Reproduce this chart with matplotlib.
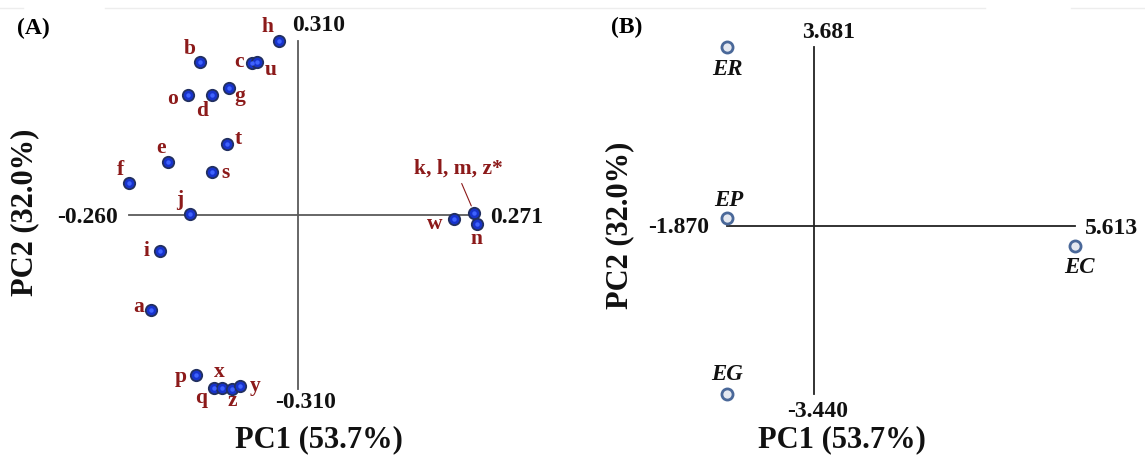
import matplotlib
matplotlib.use("Agg")
import matplotlib.pyplot as plt
from matplotlib.lines import Line2D

# ---------------- data ----------------
# Panel A: loadings
labels_a = ['h', 'b', 'c', 'u', 'o', 'd', 'g', 't', 'e', 's', 'f',
            'j', 'i', 'a', 'p', 'q', 'x', 'z', 'y', 'w', 'k, l, m, z*', 'n']
pc1_a = [-0.030, -0.151, -0.071, -0.063, -0.170, -0.132, -0.107, -0.110,
         -0.201, -0.132, -0.260, -0.166, -0.213, -0.226, -0.158, -0.130,
         -0.118, -0.102, -0.089, 0.240, 0.271, 0.275]
pc2_a = [0.310, 0.272, 0.270, 0.273, 0.214, 0.214, 0.227, 0.126, 0.095,
         0.076, 0.057, 0.002, -0.064, -0.168, -0.285, -0.308, -0.308,
         -0.310, -0.305, -0.007, 0.004, -0.016]
xlim_a = (-0.260, 0.271)
ylim_a = (-0.310, 0.310)

# Panel B: scores
labels_b = ['ER', 'EP', 'EG', 'EC']
pc1_b = [-1.870, -1.870, -1.870, 5.613]
pc2_b = [3.681, 0.166, -3.440, -0.397]
xlim_b = (-1.870, 5.613)
ylim_b = (-3.440, 3.681)

xlabel = 'PC1 (53.7%)'
ylabel = 'PC2 (32.0%)'

# ---------------- styling ----------------
W, H = 1145, 461
SERIF = ['Liberation Serif', 'DejaVu Serif']
plt.rcParams['font.family'] = SERIF
RED = '#8c1a1a'

fig = plt.figure(figsize=(W / 100, H / 100), dpi=100)
fig.patch.set_facecolor('white')


def add_axes_px(left, right, top, bottom):
    return fig.add_axes([left / W, 1 - bottom / H, (right - left) / W, (bottom - top) / H])


# faint top rule
for x0, x1 in [(0, 23), (105, 985), (1071, 1145)]:
    fig.add_artist(Line2D([x0 / W, x1 / W], [1 - 8 / H, 1 - 8 / H],
                          color='#ededed', lw=1.0, transform=fig.transFigure))

# ---------------- Panel A ----------------
axA = add_axes_px(129.3, 474.3, 41, 389.3)
axA.set_xlim(*xlim_a)
axA.set_ylim(*ylim_a)
axA.axis('off')
axA.plot([xlim_a[0], xlim_a[1]], [0, 0], color='#5a5a5a', lw=1.3, clip_on=False, zorder=1)
axA.plot([0, 0], [ylim_a[0], ylim_a[1]], color='#5a5a5a', lw=1.3, clip_on=False, zorder=1)

axA.plot(pc1_a, pc2_a, 'o', ms=8.2, mfc='#1733cc', mec='#223060', mew=1.3,
         clip_on=False, zorder=3)
axA.plot(pc1_a, pc2_a, 'o', ms=3.2, mfc='#3f63ff', mec='none',
         clip_on=False, zorder=4)

offs_a = {'h': (-11, 14), 'b': (-10, 13), 'c': (-13, 1), 'u': (13, -8),
          'o': (-15, -4), 'd': (-10, -16), 'g': (11, -8), 't': (11, 5),
          'e': (-7, 14), 's': (13, -1), 'f': (-9, 13), 'j': (-11, 14),
          'i': (-13, 0), 'a': (-13, 3), 'p': (-15, -2), 'q': (-13, -10),
          'x': (-2, 16), 'z': (0, -12), 'y': (15, 0), 'w': (-19, -5),
          'k, l, m, z*': (-16, 44), 'n': (0, -15)}
for lab, x, y in zip(labels_a, pc1_a, pc2_a):
    axA.annotate(lab, (x, y), xytext=offs_a[lab], textcoords='offset pixels',
                 ha='center', va='center', fontsize=15.5, fontweight='bold',
                 color=RED, annotation_clip=False)
    if lab.startswith('k'):
        axA.annotate('', (x, y), xytext=(-12.6, 29.4), textcoords='offset pixels',
                     arrowprops=dict(arrowstyle='-', color=RED, lw=0.8,
                                     shrinkA=0, shrinkB=5.5),
                     annotation_clip=False)

tick_kw = dict(textcoords='offset pixels', fontsize=17, fontweight='bold',
               color='#111111', annotation_clip=False)
axA.annotate(f'{ylim_a[1]:.3f}', (0, ylim_a[1]), xytext=(20, 15), ha='center', va='center', **tick_kw)
axA.annotate(f'{ylim_a[0]:.3f}', (0, ylim_a[0]), xytext=(7, -13), ha='center', va='center', **tick_kw)
axA.annotate(f'{xlim_a[0]:.3f}', (xlim_a[0], 0), xytext=(-11, -2), ha='right', va='center', **tick_kw)
axA.annotate(f'{xlim_a[1]:.3f}', (xlim_a[1], 0), xytext=(16, -2), ha='left', va='center', **tick_kw)

# ---------------- Panel B ----------------
axB = add_axes_px(727, 1075, 47, 394)
axB.set_xlim(*xlim_b)
axB.set_ylim(*ylim_b)
axB.axis('off')
axB.plot([xlim_b[0], xlim_b[1]], [0, 0], color='#222222', lw=1.3, clip_on=False, zorder=1)
axB.plot([0, 0], [ylim_b[0], ylim_b[1]], color='#222222', lw=1.3, clip_on=False, zorder=1)
axB.plot(pc1_b, pc2_b, 'o', ms=8, mfc='#e4e8f0', mec='#4a6899', mew=2.0,
         clip_on=False, zorder=3)

offs_b = {'ER': (0, -22), 'EP': (2, 18), 'EG': (0, 20), 'EC': (4, -22)}
for lab, x, y in zip(labels_b, pc1_b, pc2_b):
    axB.annotate(lab, (x, y), xytext=offs_b[lab], textcoords='offset pixels',
                 ha='center', va='center', fontsize=16.5, fontweight='bold',
                 fontstyle='italic', color='#111111', annotation_clip=False)

axB.annotate(f'{ylim_b[1]:.3f}', (0, ylim_b[1]), xytext=(15, 15), ha='center', va='center', **tick_kw)
axB.annotate(f'{ylim_b[0]:.3f}', (0, ylim_b[0]), xytext=(4, -17), ha='center', va='center', **tick_kw)
axB.annotate(f'{xlim_b[0]:.3f}', (xlim_b[0], 0), xytext=(-18, -1), ha='right', va='center', **tick_kw)
axB.annotate(f'{xlim_b[1]:.3f}', (xlim_b[1], 0), xytext=(10, -2), ha='left', va='center', **tick_kw)

# ---------------- titles ----------------
title_kw = dict(fontsize=22, fontweight='bold', color='#111111', ha='center', va='center')
fig.text(319 / W, 1 - 440 / H, xlabel, **title_kw)
fig.text(25 / W, 1 - 212 / H, ylabel, rotation=90, **title_kw)
fig.text(842 / W, 1 - 440 / H, xlabel, **title_kw)
fig.text(620 / W, 1 - 225 / H, ylabel, rotation=90, **title_kw)

fig.text(33 / W, 1 - 28 / H, '(A)', fontsize=17, fontweight='bold', ha='center', va='center')
fig.text(627 / W, 1 - 27 / H, '(B)', fontsize=17, fontweight='bold', ha='center', va='center')

fig.savefig('out.png', dpi=100, facecolor='white')
